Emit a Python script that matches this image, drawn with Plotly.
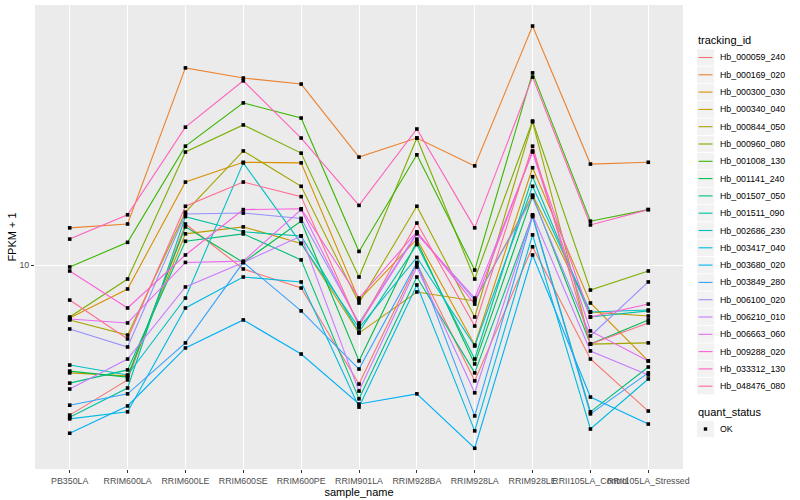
import plotly.graph_objects as go

samples = ["PB350LA", "RRIM600LA", "RRIM600LE", "RRIM600SE", "RRIM600PE", "RRIM901LA",
           "RRIM928BA", "RRIM928LA", "RRIM928LE", "RRII105LA_Control", "RRII105LA_Stressed"]

tracking_ids = ["Hb_000059_240", "Hb_000169_020", "Hb_000300_030", "Hb_000340_040", "Hb_000844_050",
                "Hb_000960_080", "Hb_001008_130", "Hb_001141_240", "Hb_001507_050", "Hb_001511_090",
                "Hb_002686_230", "Hb_003417_040", "Hb_003680_020", "Hb_003849_280", "Hb_006100_020",
                "Hb_006210_010", "Hb_006663_060", "Hb_009288_020", "Hb_033312_130", "Hb_048476_080"]

colors = ["#F8766D", "#EA8331", "#D89000", "#C09B00", "#A3A500", "#7CAE00", "#39B600", "#00BB4E",
          "#00BF7D", "#00C1A3", "#00BFC4", "#00BAE0", "#00B0F6", "#35A2FF", "#9590FF", "#C77CFF",
          "#E76BF3", "#FA62DB", "#FF62BC", "#FF6C91"]

quant_status = ["OK"]

# FPKM + 1 values, one list per tracking_id (order of samples)
Hb_000059_240 = [3.16, 4.14, 13.7, 9.70, 8.38, 4.01, 10.1, 4.11, 11.5, 4.86, 3.26]
Hb_000169_020 = [13.3, 13.7, 45.4, 42.0, 40.1, 22.9, 26.5, 21.4, 62.6, 21.7, 22.0]
Hb_000300_030 = [6.66, 8.32, 18.9, 22.0, 21.9, 7.64, 12.2, 5.41, 21.1, 7.47, 4.79]
Hb_000340_040 = [4.37, 4.27, 12.7, 13.4, 11.8, 5.93, 8.13, 7.59, 17.1, 6.97, 6.76]
Hb_000844_050 = [6.56, 5.84, 15.0, 24.0, 18.3, 7.47, 15.7, 6.71, 30.0, 5.45, 5.50]
Hb_000960_080 = [6.71, 8.98, 23.8, 29.3, 23.6, 9.12, 26.5, 8.98, 30.2, 8.25, 9.55]
Hb_001008_130 = [9.85, 11.9, 24.9, 34.7, 30.9, 11.1, 23.3, 9.62, 43.7, 14.0, 15.3]
Hb_001141_240 = [4.43, 4.23, 13.4, 10.2, 14.0, 4.79, 12.0, 4.68, 17.0, 5.45, 6.56]
Hb_001507_050 = [4.04, 4.47, 12.0, 12.7, 10.4, 3.58, 9.12, 4.37, 14.6, 3.24, 4.57]
Hb_001511_090 = [3.11, 3.89, 14.5, 12.9, 12.5, 5.98, 11.7, 4.86, 19.7, 6.71, 7.03]
Hb_002686_230 = [4.64, 4.30, 7.76, 21.9, 11.8, 6.17, 10.6, 5.37, 18.3, 6.97, 7.08]
Hb_003417_040 = [3.07, 3.24, 7.19, 9.12, 8.78, 3.36, 8.58, 2.80, 12.6, 2.84, 4.17]
Hb_003680_020 = [2.75, 3.39, 5.29, 6.56, 5.05, 3.44, 3.72, 2.45, 10.8, 3.63, 2.95]
Hb_003849_280 = [3.41, 3.72, 5.50, 10.2, 7.03, 4.50, 10.2, 3.14, 14.5, 3.19, 4.37]
Hb_006100_020 = [6.12, 5.33, 14.8, 14.9, 14.3, 6.41, 12.8, 7.64, 16.8, 5.80, 8.78]
Hb_006210_010 = [3.86, 4.86, 8.45, 10.2, 12.5, 3.80, 9.85, 3.75, 14.7, 5.17, 4.30]
Hb_006663_060 = [6.61, 6.41, 10.2, 10.3, 15.3, 6.31, 12.7, 7.76, 23.8, 6.03, 4.79]
Hb_009288_020 = [9.55, 7.19, 10.8, 15.3, 15.4, 7.76, 12.9, 7.41, 24.0, 6.71, 7.41]
Hb_033312_130 = [12.2, 14.7, 28.8, 41.1, 26.5, 15.8, 28.4, 13.3, 42.3, 13.6, 15.3]
Hb_048476_080 = [7.64, 5.67, 15.7, 18.9, 16.9, 6.26, 13.8, 6.26, 24.9, 5.45, 6.41]

series = [Hb_000059_240, Hb_000169_020, Hb_000300_030, Hb_000340_040, Hb_000844_050,
          Hb_000960_080, Hb_001008_130, Hb_001141_240, Hb_001507_050, Hb_001511_090,
          Hb_002686_230, Hb_003417_040, Hb_003680_020, Hb_003849_280, Hb_006100_020,
          Hb_006210_010, Hb_006663_060, Hb_009288_020, Hb_033312_130, Hb_048476_080]

FONT = "Liberation Sans"
W, H = 800, 500
ML, MR, MT, MB = 35, 117, 5, 31
PW, PH = W - ML - MR, H - MT - MB


def px(x):
    return (x - ML) / PW


def py(y):
    return (H - MB - y) / PH


fig = go.Figure()
for name, vals, col in zip(tracking_ids, series, colors):
    fig.add_trace(go.Scatter(x=samples, y=vals, mode="lines", name=name,
                             line=dict(color=col, width=1.1), showlegend=False))

all_x = [s for vals in series for s in samples]
all_y = [v for vals in series for v in vals]
fig.add_trace(go.Scatter(x=all_x, y=all_y, mode="markers", name=quant_status[0],
                         marker=dict(symbol="square", size=3.6, color="black"), showlegend=False))

# manual legend (ggplot style)
shapes = []
annotations = []
KX0, KX1 = 697, 714
Y0, STEP = 57.5, 17.3
annotations.append(dict(text="tracking_id", x=px(696), y=py(40), xref="paper", yref="paper",
                        xanchor="left", yanchor="middle", showarrow=False,
                        font=dict(size=11, color="black", family=FONT)))
for i, (name, col) in enumerate(zip(tracking_ids, colors)):
    yc = Y0 + STEP * i
    shapes.append(dict(type="rect", xref="paper", yref="paper",
                       x0=px(KX0), x1=px(KX1), y0=py(yc - 8.2), y1=py(yc + 8.2),
                       fillcolor="#F2F2F2", line=dict(width=0), layer="below"))
    shapes.append(dict(type="line", xref="paper", yref="paper",
                       x0=px(KX0 + 1.5), x1=px(KX1 - 1.5), y0=py(yc), y1=py(yc),
                       line=dict(color=col, width=1.1)))
    annotations.append(dict(text=name, x=px(718), y=py(yc), xref="paper", yref="paper",
                            xanchor="left", yanchor="middle", showarrow=False,
                            font=dict(size=8.8, color="black", family=FONT)))

annotations.append(dict(text="quant_status", x=px(696), y=py(412), xref="paper", yref="paper",
                        xanchor="left", yanchor="middle", showarrow=False,
                        font=dict(size=11, color="black", family=FONT)))
yc = 429
shapes.append(dict(type="rect", xref="paper", yref="paper",
                   x0=px(KX0), x1=px(KX1), y0=py(yc - 8.2), y1=py(yc + 8.2),
                   fillcolor="#F2F2F2", line=dict(width=0), layer="below"))
shapes.append(dict(type="rect", xref="paper", yref="paper",
                   x0=px(703.8), x1=px(707.2), y0=py(yc - 1.7), y1=py(yc + 1.7),
                   fillcolor="black", line=dict(width=0)))
annotations.append(dict(text=quant_status[0], x=px(718), y=py(yc), xref="paper", yref="paper",
                        xanchor="left", yanchor="middle", showarrow=False,
                        font=dict(size=8.8, color="black", family=FONT)))

fig.update_layout(
    width=W, height=H,
    paper_bgcolor="white", plot_bgcolor="#EBEBEB",
    margin=dict(l=ML, r=MR, t=MT, b=MB, autoexpand=False),
    font=dict(family=FONT, size=9, color="#4D4D4D"),
    showlegend=False,
    shapes=shapes, annotations=annotations,
    xaxis=dict(type="category", range=[-0.6, 10.6], tickangle=0, automargin=False,
               showgrid=True, gridcolor="white", gridwidth=1.2,
               ticks="outside", ticklen=3, tickcolor="#333333",
               tickfont=dict(size=8.8, color="#4D4D4D"),
               title=dict(text="sample_name", font=dict(size=11, color="black"), standoff=2),
               zeroline=False, showline=False),
    yaxis=dict(type="log", range=[0.32, 1.8667], tickvals=[10], ticktext=["10"], automargin=False,
               showgrid=True, gridcolor="white", gridwidth=1.2,
               ticks="outside", ticklen=3, tickcolor="#333333",
               tickfont=dict(size=8.8, color="#4D4D4D"),
               title=dict(text="FPKM + 1", font=dict(size=11, color="black"), standoff=0),
               zeroline=False, showline=False),
)

fig.write_html("out.html", config={"displayModeBar": False},
               post_script="document.body.style.margin='0px';document.body.style.overflow='hidden';")
